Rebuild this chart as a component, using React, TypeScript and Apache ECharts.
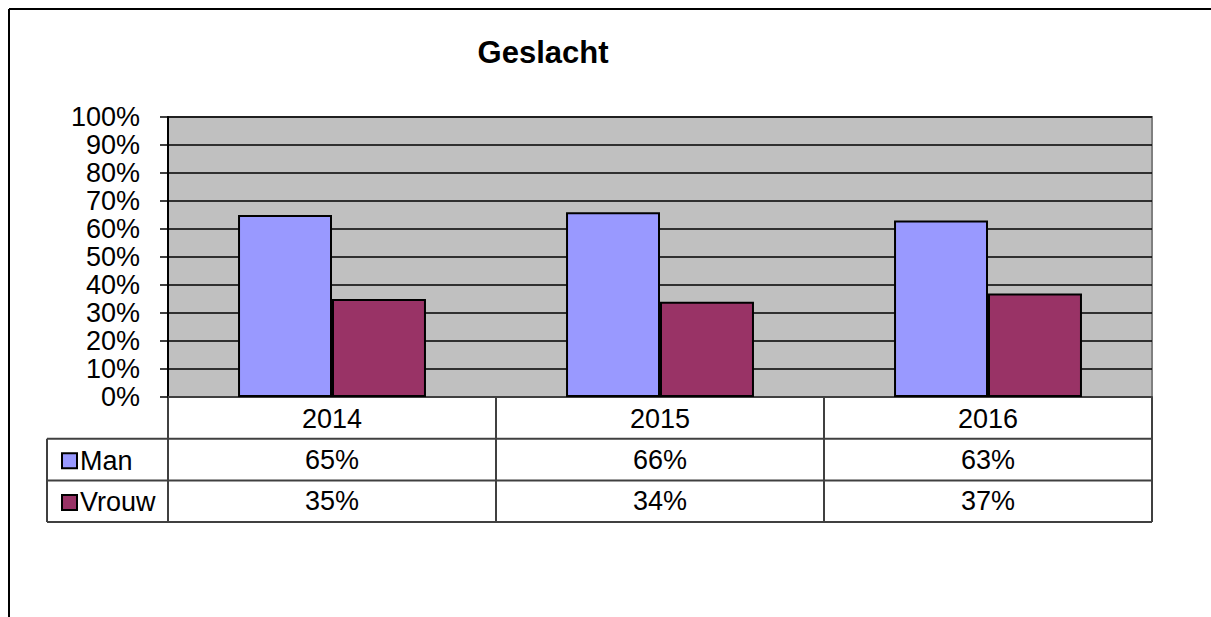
import React, { useEffect, useRef } from "react";
import * as echarts from "echarts";

const title = "Geslacht";
const years = ["2014", "2015", "2016"];
const seriesNames = ["Man", "Vrouw"];
const manValues = [65, 66, 63];
const vrouwValues = [35, 34, 37];
const seriesColors = ["#9999ff", "#993366"];
const yTicks = [0, 10, 20, 30, 40, 50, 60, 70, 80, 90, 100];

const W = 1211;
const H = 617;
const FONT = "'Liberation Sans', Arial, sans-serif";
const gridLeft = 168;
const gridRight = 1152;
const gridTop = 117;
const gridBottom = 397;
const rowH = 41.7;
const tableLeft = 47;
const lineColor = "#404040";

export default function App() {
  const ref = useRef<HTMLDivElement>(null);
  useEffect(() => {
    document.body.style.margin = "0";
    const chart = echarts.init(ref.current!, null, { renderer: "svg" });
    const values = [manValues, vrouwValues];
    const colW = (gridRight - gridLeft) / years.length;
    const rowTops = [gridBottom, gridBottom + rowH, gridBottom + 2 * rowH, gridBottom + 3 * rowH];

    const graphics: any[] = [];
    graphics.push({ type: "line", shape: { x1: 9, y1: 9, x2: W, y2: 9 }, style: { stroke: "#000", lineWidth: 2 } });
    graphics.push({ type: "line", shape: { x1: 9, y1: 9, x2: 9, y2: H }, style: { stroke: "#000", lineWidth: 2 } });
    for (let r = 1; r < rowTops.length; r++) {
      graphics.push({
        type: "line",
        shape: { x1: tableLeft, y1: rowTops[r], x2: gridRight, y2: rowTops[r] },
        style: { stroke: lineColor, lineWidth: 2 },
      });
    }
    graphics.push({
      type: "line",
      shape: { x1: tableLeft, y1: rowTops[1], x2: tableLeft, y2: rowTops[3] },
      style: { stroke: lineColor, lineWidth: 2 },
    });
    for (let c = 0; c <= years.length; c++) {
      const x = gridLeft + c * colW;
      graphics.push({
        type: "line",
        shape: { x1: x, y1: gridBottom, x2: x, y2: rowTops[3] },
        style: { stroke: lineColor, lineWidth: 2 },
      });
    }
    values.forEach((arr, s) => {
      arr.forEach((v, i) => {
        graphics.push({
          type: "text",
          x: gridLeft + (i + 0.5) * colW,
          y: rowTops[s + 1] + rowH / 2,
          style: {
            text: `${v}%`,
            font: `27px ${FONT}`,
            fill: "#000",
            align: "center",
            verticalAlign: "middle",
          },
        });
      });
    });

    chart.setOption({
      animation: false,
      backgroundColor: "#fff",
      title: {
        text: title,
        left: 538,
        top: 32,
        textAlign: "center",
        textStyle: { fontFamily: FONT, fontSize: 31, fontWeight: "bold", color: "#000" },
      },
      legend: {
        orient: "vertical",
        left: 56,
        top: rowTops[1] + 2,
        icon: "rect",
        itemWidth: 15,
        itemHeight: 15,
        itemGap: rowH - 30,
        data: seriesNames,
        itemStyle: { borderColor: "#000", borderWidth: 2 },
        textStyle: { fontFamily: FONT, fontSize: 27, color: "#000", lineHeight: 30, padding: [0, 0, 0, -2] },
      },
      grid: {
        left: gridLeft,
        right: W - gridRight,
        top: gridTop,
        bottom: H - gridBottom,
        show: true,
        backgroundColor: "#c0c0c0",
        borderColor: "#808080",
        borderWidth: 2,
      },
      xAxis: {
        type: "category",
        data: years,
        axisLine: { show: true, lineStyle: { color: lineColor, width: 2 } },
        axisTick: { show: false },
        axisLabel: { fontFamily: FONT, fontSize: 27, color: "#000", margin: 8 },
      },
      yAxis: {
        type: "value",
        min: yTicks[0],
        max: yTicks[yTicks.length - 1],
        interval: 10,
        axisLine: { show: true, lineStyle: { color: "#000", width: 2 } },
        axisTick: { show: true, length: 8, lineStyle: { color: "#000", width: 1.5 } },
        axisLabel: { fontFamily: FONT, fontSize: 27, color: "#000", margin: 28, formatter: (v: number) => `${v}%` },
        splitLine: { show: true, lineStyle: { color: "#000", width: 1.5 } },
      },
      series: seriesNames.map((name, s) => ({
        name,
        type: "bar",
        data: values[s],
        barGap: "0%",
        barCategoryGap: "42.7%",
        itemStyle: { color: seriesColors[s], borderColor: "#000", borderWidth: 2 },
      })),
      graphic: graphics,
    });
    return () => chart.dispose();
  }, []);
  return <div ref={ref} style={{ width: W, height: H }} />;
}
